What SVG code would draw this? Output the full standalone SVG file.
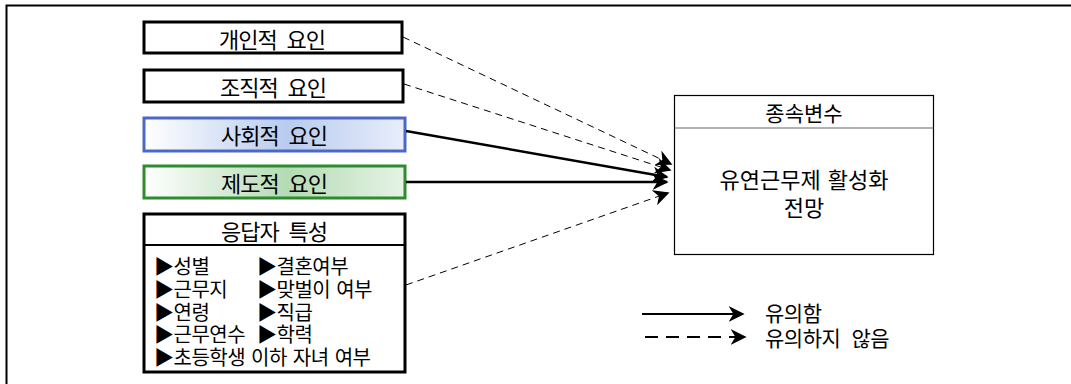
<svg xmlns="http://www.w3.org/2000/svg" width="1071" height="384" viewBox="0 0 1071 384">
  <style>
    .t { font-family: "Noto Sans CJK KR", "Noto Sans", sans-serif; fill: #000; }
    .box { fill: #fff; stroke: #000; stroke-width: 3; }
    .lbl { font-size: 22px; text-anchor: middle; dominant-baseline: central; letter-spacing: -1px; word-spacing: 6px; }
    .big { font-size: 22px; text-anchor: middle; dominant-baseline: central; word-spacing: 2px; }
    .item { font-size: 20px; dominant-baseline: central; letter-spacing: -0.5px; word-spacing: 2px; }
    .sig { fill: none; stroke: #000; stroke-width: 2.5; }
    .nsig { fill: none; stroke: #000; stroke-width: 1; stroke-dasharray: 7 5; }
  </style>
  <defs>
    <linearGradient id="gBlue" x1="0" y1="0" x2="1" y2="0">
      <stop offset="0" stop-color="#ffffff"/>
      <stop offset="0.55" stop-color="#b9cbef"/>
      <stop offset="1" stop-color="#e8eefb"/>
    </linearGradient>
    <linearGradient id="gGreen" x1="0" y1="0" x2="1" y2="0">
      <stop offset="0" stop-color="#ffffff"/>
      <stop offset="0.55" stop-color="#b5dbb5"/>
      <stop offset="1" stop-color="#e6f3e6"/>
    </linearGradient>
    <marker id="ah" viewBox="0 0 10 10" refX="9" refY="5" markerWidth="16" markerHeight="16" markerUnits="userSpaceOnUse" orient="auto">
      <path d="M0,0 L10,5 L0,10 L3,5 Z" fill="#000"/>
    </marker>
  </defs>

  <!-- outer frame -->
  <path d="M6.5,384 V5.5 H1071" fill="none" stroke="#000" stroke-width="2"/>

  <g id="n-personal">
    <rect class="box" x="144" y="22" width="258" height="31"/>
    <text class="t lbl" x="272" y="38">개인적 요인</text>
  </g>
  <g id="n-organizational">
    <rect class="box" x="144" y="70" width="259" height="32"/>
    <text class="t lbl" x="273" y="86">조직적 요인</text>
  </g>
  <g id="n-social">
    <rect x="144" y="118" width="261" height="33" fill="url(#gBlue)" stroke="#4a68c8" stroke-width="3"/>
    <text class="t lbl" x="274" y="134">사회적 요인</text>
  </g>
  <g id="n-institutional">
    <rect x="144" y="166" width="261" height="32" fill="url(#gGreen)" stroke="#2e8b2e" stroke-width="3"/>
    <text class="t lbl" x="274" y="182">제도적 요인</text>
  </g>
  <g id="n-respondent">
    <rect class="box" x="144" y="214" width="261" height="158"/>
    <line x1="144" y1="245" x2="405" y2="245" stroke="#000" stroke-width="2"/>
    <text class="t lbl" x="274" y="230">응답자 특성</text>
    <text class="t item" x="154" y="265">▶성별</text>
    <text class="t item" x="154" y="288">▶근무지</text>
    <text class="t item" x="154" y="311">▶연령</text>
    <text class="t item" x="154" y="333">▶근무연수</text>
    <text class="t item" x="154" y="356">▶초등학생 이하 자녀 여부</text>
    <text class="t item" x="257" y="265">▶결혼여부</text>
    <text class="t item" x="257" y="288">▶맞벌이 여부</text>
    <text class="t item" x="257" y="311">▶직급</text>
    <text class="t item" x="257" y="333">▶학력</text>
  </g>
  <g id="n-dependent">
    <rect x="674.5" y="95.5" width="259" height="159" fill="#fff" stroke="#000" stroke-width="1.2"/>
    <line x1="674.5" y1="128" x2="933.5" y2="128" stroke="#666" stroke-width="1.2"/>
    <text class="t big" x="804" y="112" style="font-size:21px">종속변수</text>
    <text class="t big" x="804" y="178">유연근무제 활성화</text>
    <text class="t big" x="804" y="206">전망</text>
  </g>

  <g id="connectors">
    <line class="nsig" x1="403" y1="37" x2="671" y2="164" marker-end="url(#ah)"/>
    <line class="nsig" x1="404" y1="84" x2="670" y2="170" marker-end="url(#ah)"/>
    <line class="sig" x1="406" y1="131" x2="667" y2="177" marker-end="url(#ah)"/>
    <line class="sig" x1="406" y1="182" x2="667" y2="182" marker-end="url(#ah)"/>
    <line class="nsig" x1="406" y1="285" x2="668" y2="193" marker-end="url(#ah)"/>
  </g>

  <g id="legend">
    <line class="sig" x1="642" y1="314" x2="743" y2="314" marker-end="url(#ah)" style="stroke-width:2"/>
    <line x1="645" y1="337" x2="745" y2="337" stroke="#000" stroke-width="2" stroke-dasharray="13 8" marker-end="url(#ah)"/>
    <text class="t item" x="765" y="312" style="font-size:21px">유의함</text>
    <text class="t item" x="765" y="337" style="font-size:21px;word-spacing:7px">유의하지 않음</text>
  </g>
</svg>
